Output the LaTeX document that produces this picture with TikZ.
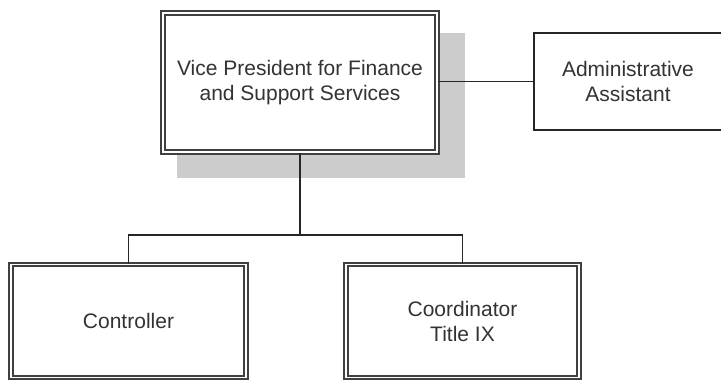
\documentclass[tikz,border=0pt]{standalone}
\usepackage{fontspec}
\setmainfont{Liberation Sans}
\usepackage{tikz}
\usetikzlibrary{positioning}
\usetikzlibrary{calc}
\tikzstyle{box}=[rectangle,draw=black!85,line width=1.8pt,fill=white,align=center,text=black!80,inner sep=0pt,font=\fontsize{21}{25}\selectfont]
\tikzstyle{dbox}=[box,draw=black!75,double=white,line width=1.7pt,double distance=1.8pt]
\tikzstyle{link} = [draw,line width=1.8pt,black!85]
\tikzstyle{shade} = [fill=black!20,draw=none]

\begin{document}
\begin{tikzpicture}[x=1pt,y=-1pt]

  \useasboundingbox (0,0) rectangle (721,382);

  % shadow behind the top box
  \fill[shade] (177,33) rectangle (465,178);

  \foreach \x/\y/\w/\h/\name/\label in {300/82.5/274/139/vp/{Vice President for Finance\\and Support Services},
          128.5/321/235/113/ctrl/Controller, 462.5/321/233/113/coord/{Coordinator\\Title IX}}
          \node[dbox, minimum width=\w pt, minimum height=\h pt] (\name) at (\x,\y) {\label};

  \node[box, minimum width=188pt, minimum height=97pt] (admin) at (628,81.5) {Administrative\\Assistant};

  \coordinate (split) at ($(vp.south)+(0,82)$);

  \path[link] (vp.east |- admin.west) -- (admin.west);
  \path[link] (vp.south) -- (split);
  \path[link] (ctrl.north) |- (split) -| (coord.north);

\end{tikzpicture}
\end{document}
